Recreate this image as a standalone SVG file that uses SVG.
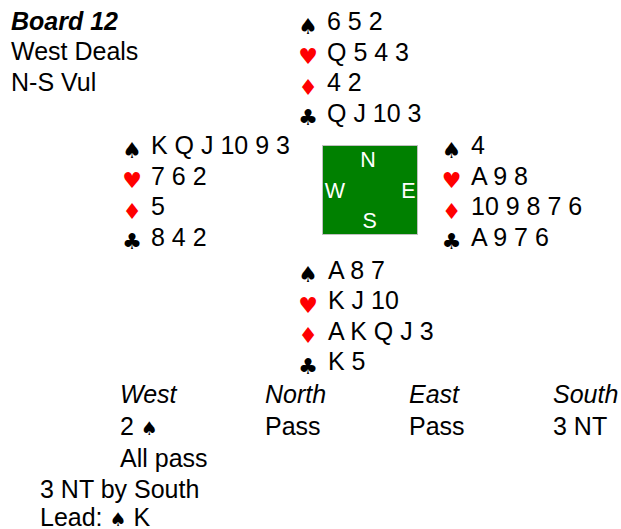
<svg xmlns="http://www.w3.org/2000/svg" width="621" height="529" viewBox="0 0 621 529">
<style>
text{font-family:"Liberation Sans",Arial,sans-serif;font-size:25px;fill:#000}
.bi{font-weight:bold;font-style:italic}
.i{font-style:italic}
.s{font-family:"DejaVu Sans",sans-serif;font-size:22px;text-anchor:middle}
.sa{font-family:"DejaVu Sans",sans-serif;font-size:19px}
.r{fill:#ff0000}
.c{fill:#ffffff;font-size:21.5px;text-anchor:middle}
</style>
<rect width="621" height="529" fill="#ffffff"/>
<g id="header">
<text class="bi" x="11" y="30">Board 12</text>
<text x="11" y="60">West Deals</text>
<text x="11" y="91">N-S Vul</text>
</g>
<g id="north">
<text class="s" x="308" y="33.5">♠</text><text x="327" y="30">6 5 2</text>
<text class="s r" x="308" y="64">♥</text><text x="327" y="60.5">Q 5 4 3</text>
<text class="s r" x="308" y="94.5">♦</text><text x="327" y="91">4 2</text>
<text class="s" x="308" y="125">♣</text><text x="327" y="121.5">Q J 10 3</text>
</g>
<g id="west">
<text class="s" x="132" y="157.5">♠</text><text x="151" y="154">K Q J 10 9 3</text>
<text class="s r" x="132" y="188">♥</text><text x="151" y="184.5">7 6 2</text>
<text class="s r" x="132" y="218.5">♦</text><text x="151" y="215">5</text>
<text class="s" x="132" y="249">♣</text><text x="151" y="245.5">8 4 2</text>
</g>
<g id="compass">
<rect x="322.5" y="145.5" width="95" height="89" fill="#008000" stroke="#c0c0c0" stroke-width="1"/>
<text class="c" x="368" y="167.3">N</text>
<text class="c" x="335" y="198.3">W</text>
<text class="c" x="408.3" y="198.3">E</text>
<text class="c" x="369.7" y="228.3">S</text>
</g>
<g id="east">
<text class="s" x="451.5" y="157.5">♠</text><text x="471" y="154">4</text>
<text class="s r" x="451.5" y="188">♥</text><text x="471" y="184.5">A 9 8</text>
<text class="s r" x="451.5" y="218.5">♦</text><text x="471" y="215">10 9 8 7 6</text>
<text class="s" x="451.5" y="249">♣</text><text x="471" y="245.5">A 9 7 6</text>
</g>
<g id="south">
<text class="s" x="308" y="282">♠</text><text x="328" y="278.5">A 8 7</text>
<text class="s r" x="308" y="312.5">♥</text><text x="328" y="309">K J 10</text>
<text class="s r" x="308" y="343">♦</text><text x="328" y="339.5">A K Q J 3</text>
<text class="s" x="308" y="373.5">♣</text><text x="328" y="370">K 5</text>
</g>
<g id="connectors"/>
<g id="auction">
<text class="i" x="120" y="403.3">West</text>
<text class="i" x="265" y="403.3">North</text>
<text class="i" x="409" y="403.3">East</text>
<text class="i" x="553" y="403.3">South</text>
<text x="120" y="435">2 <tspan class="sa">♠</tspan></text>
<text x="265" y="435">Pass</text>
<text x="409" y="435">Pass</text>
<text x="553" y="435">3 NT</text>
<text x="120" y="467">All pass</text>
</g>
<g id="result">
<text x="40" y="498">3 NT by South</text>
<text x="40" y="525.5">Lead: <tspan class="sa">♠</tspan> K</text>
</g>
</svg>
